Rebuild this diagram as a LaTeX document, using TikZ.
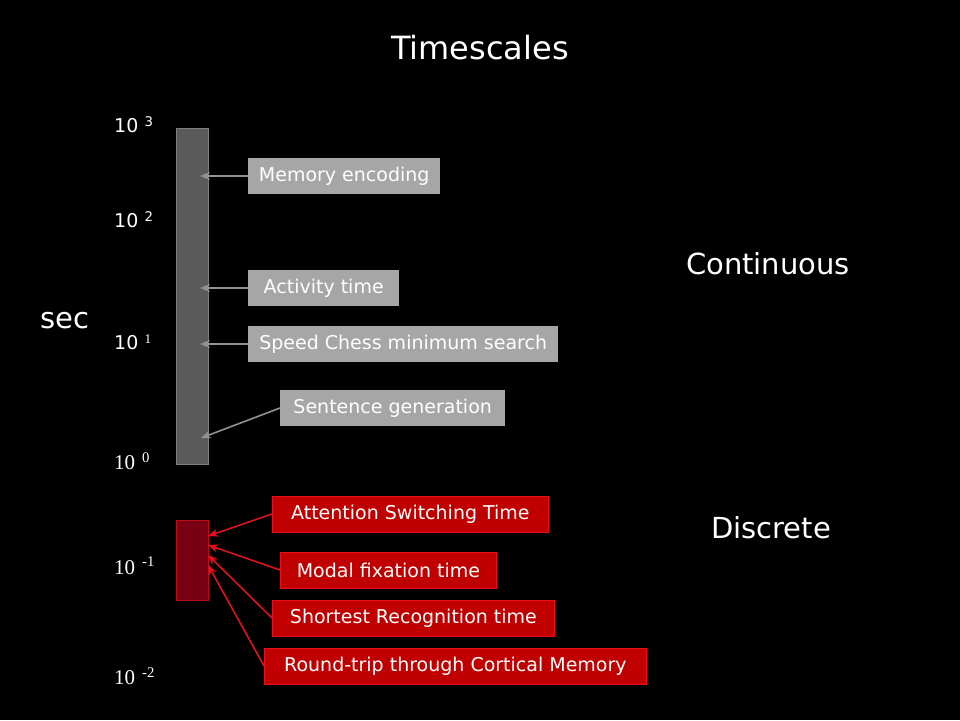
\documentclass[tikz,border=0pt]{standalone}
\usepackage{fontspec}
\setmainfont{DejaVu Sans}
\newfontfamily\tickserif{Liberation Serif}
\usetikzlibrary{arrows.meta}
\definecolor{bargray}{HTML}{5A5A5A}
\definecolor{barline}{HTML}{7F7F7F}
\definecolor{boxgray}{HTML}{A6A6A6}
\definecolor{arrgray}{HTML}{929292}
\definecolor{bardark}{HTML}{780012}
\definecolor{boxred}{HTML}{C00000}
\definecolor{linered}{HTML}{E8101E}

\begin{document}
\begin{tikzpicture}[x=1pt,y=-1pt,
    greybox/.style={fill=boxgray,text=white,font=\fontsize{19}{22}\selectfont,minimum height=36,anchor=west,inner xsep=8},
    redbox/.style={fill=boxred,draw=linered,line width=0.8pt,text=white,font=\fontsize{19}{22}\selectfont,minimum height=36,anchor=west,inner xsep=8},
    greyarrow/.style={draw=arrgray,line width=1.6pt,-{Stealth[length=10pt,width=8pt]}},
    redarrow/.style={draw=linered,line width=1.5pt,-{Stealth[length=10pt,width=8pt]}},
    tick/.style={anchor=west,text=white,font=\fontsize{19}{22}\selectfont,inner sep=0pt},
    bigword/.style={text=white,font=\fontsize{29}{33}\selectfont}]
            \fill[black] (0,0) rectangle (960,720);
            \useasboundingbox (0,0) rectangle (960,720);
            % bars
            \draw[fill=bargray,draw=barline,line width=0.8pt] (176,128) rectangle (208,464);
            \draw[fill=bardark,draw=linered!80!black,line width=0.8pt] (176,520) rectangle (208,600);
            % titles
            \node[text=white,font=\fontsize{32}{36}\selectfont] (title) at (480,48) {Timescales};
            \node[bigword] (sec) at (65,321) {sec};
            \node[bigword] (cont) at (768,264) {Continuous};
            \node[bigword] (disc) at (771,528) {Discrete};
            % scale
            \node[tick] (t3) at (114,125) {10\,\,\textsuperscript{3}};
            \node[tick] (t2) at (114,220) {10\,\,\textsuperscript{2}};
            \node[tick] (t1) at (114,342) {10\,\,\textsuperscript{\tickserif 1}};
            \node[tick,font=\tickserif\fontsize{21}{22}\selectfont] (t0) at (114,461) {10\,\,\textsuperscript{0}};
            \node[tick,font=\tickserif\fontsize{21}{22}\selectfont] (tm1) at (114,566) {10\,\,\textsuperscript{-1}};
            \node[tick,font=\tickserif\fontsize{21}{22}\selectfont] (tm2) at (114,676) {10\,\,\textsuperscript{-2}};
            % continuous
            \node[greybox,minimum width=192] (mem) at (248,176) {Memory encoding};
            \node[greybox,minimum width=151] (act) at (248,288) {Activity time};
            \node[greybox,minimum width=310] (chess) at (248,344) {Speed Chess minimum search};
            \node[greybox,minimum width=225] (sent) at (280,408) {Sentence generation};
            \coordinate (pmem) at (200,176);
            \coordinate (pact) at (200,288);
            \coordinate (pchess) at (200,344);
            \coordinate (psent) at (201,438);
            \draw[greyarrow] (mem.west) -- (pmem);
            \draw[greyarrow] (act.west) -- (pact);
            \draw[greyarrow] (chess.west) -- (pchess);
            \draw[greyarrow] (sent.west) -- (psent);
            % discrete
            \node[redbox,minimum width=276] (att) at (272,514) {Attention Switching Time};
            \node[redbox,minimum width=216] (modal) at (280,570) {Modal fixation time};
            \node[redbox,minimum width=282] (short) at (272,618) {Shortest Recognition time};
            \node[redbox,minimum width=382] (trip) at (264,666) {Round-trip through Cortical Memory};
            \coordinate (patt) at (208,536);
            \coordinate (pmodal) at (208,545);
            \coordinate (pshort) at (208,555);
            \coordinate (ptrip) at (208,565);
            \draw[redarrow] (att.west) -- (patt);
            \draw[redarrow] (modal.west) -- (pmodal);
            \draw[redarrow] (short.west) -- (pshort);
            \draw[redarrow] (trip.west) -- (ptrip);
        \end{tikzpicture}
\end{document}
